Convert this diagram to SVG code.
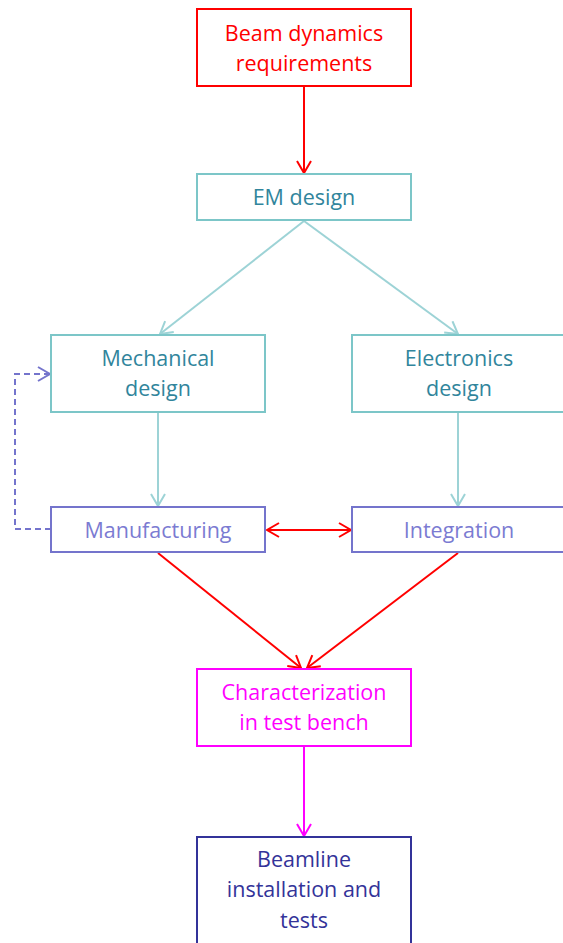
<svg xmlns="http://www.w3.org/2000/svg" width="563" height="943" viewBox="0 0 563 943">
  <style>
    .box { fill: #ffffff; stroke-width: 2; }
    .lbl { font-family: "Open Sans", "Liberation Sans", sans-serif; font-size: 21.5px; text-anchor: middle; }
    .red { stroke: #ff0000; }
    .teal { stroke: #7cc6c8; }
    .purple { stroke: #7474cc; }
    .mag { stroke: #ff00ff; }
    .navy { stroke: #333399; }
    .conn { fill: none; stroke-width: 2; }
  </style>
  <defs>
    <marker id="ahRed" markerWidth="16" markerHeight="16" viewBox="-14 -8 16 16" refX="0" refY="0" orient="auto" markerUnits="userSpaceOnUse">
      <path d="M-12,-7 L0,0 L-12,7" fill="none" stroke="#ff0000" stroke-width="2"/>
    </marker>
    <marker id="ahRedStart" markerWidth="16" markerHeight="16" viewBox="-2 -8 16 16" refX="0" refY="0" orient="auto" markerUnits="userSpaceOnUse">
      <path d="M12,-7 L0,0 L12,7" fill="none" stroke="#ff0000" stroke-width="2"/>
    </marker>
    <marker id="ahTeal" markerWidth="16" markerHeight="16" viewBox="-14 -8 16 16" refX="0" refY="0" orient="auto" markerUnits="userSpaceOnUse">
      <path d="M-12,-7 L0,0 L-12,7" fill="none" stroke="#9dd3d6" stroke-width="2"/>
    </marker>
    <marker id="ahPurple" markerWidth="16" markerHeight="16" viewBox="-14 -8 16 16" refX="0" refY="0" orient="auto" markerUnits="userSpaceOnUse">
      <path d="M-12,-7 L0,0 L-12,7" fill="none" stroke="#7474cc" stroke-width="2"/>
    </marker>
    <marker id="ahMag" markerWidth="16" markerHeight="16" viewBox="-14 -8 16 16" refX="0" refY="0" orient="auto" markerUnits="userSpaceOnUse">
      <path d="M-12,-7 L0,0 L-12,7" fill="none" stroke="#ff00ff" stroke-width="2"/>
    </marker>
  </defs>
  <rect width="563" height="943" fill="#ffffff"/>

  <g id="connectors" class="conn">
    <line x1="304" y1="87" x2="304" y2="173" stroke="#ff0000" marker-end="url(#ahRed)"/>
    <line x1="304" y1="221" x2="160" y2="334" stroke="#9dd3d6" marker-end="url(#ahTeal)"/>
    <line x1="304" y1="221" x2="458" y2="334" stroke="#9dd3d6" marker-end="url(#ahTeal)"/>
    <line x1="158" y1="413" x2="158" y2="506" stroke="#9dd3d6" marker-end="url(#ahTeal)"/>
    <line x1="458" y1="413" x2="458" y2="506" stroke="#9dd3d6" marker-end="url(#ahTeal)"/>
    <line x1="267" y1="530" x2="351" y2="530" stroke="#ff0000" marker-start="url(#ahRedStart)" marker-end="url(#ahRed)"/>
    <path d="M51,529 H15 V374 H50" stroke="#7474cc" stroke-dasharray="6,4" marker-end="url(#ahPurple)"/>
    <line x1="158" y1="553" x2="301" y2="668" stroke="#ff0000" marker-end="url(#ahRed)"/>
    <line x1="458" y1="553" x2="307" y2="668" stroke="#ff0000" marker-end="url(#ahRed)"/>
    <line x1="304" y1="747" x2="304" y2="836" stroke="#ff00ff" marker-end="url(#ahMag)"/>
  </g>

  <g id="beam-dynamics">
    <rect class="box red" x="197" y="9" width="214" height="77"/>
    <text class="lbl" x="304" y="41" fill="#ff0000">Beam dynamics</text>
    <text class="lbl" x="304" y="71" fill="#ff0000">requirements</text>
  </g>

  <g id="em-design">
    <rect class="box teal" x="197" y="174" width="214" height="46"/>
    <text class="lbl" x="304" y="205" fill="#31859c">EM design</text>
  </g>

  <g id="mechanical-design">
    <rect class="box teal" x="51" y="335" width="214" height="77"/>
    <text class="lbl" x="158" y="366" fill="#31859c">Mechanical</text>
    <text class="lbl" x="158" y="396" fill="#31859c">design</text>
  </g>

  <g id="electronics-design">
    <rect class="box teal" x="352" y="335" width="214" height="77"/>
    <text class="lbl" x="459" y="366" fill="#31859c">Electronics</text>
    <text class="lbl" x="459" y="396" fill="#31859c">design</text>
  </g>

  <g id="manufacturing">
    <rect class="box purple" x="51" y="507" width="214" height="45"/>
    <text class="lbl" x="158" y="538" fill="#7b7bd2">Manufacturing</text>
  </g>

  <g id="integration">
    <rect class="box purple" x="352" y="507" width="214" height="45"/>
    <text class="lbl" x="459" y="538" fill="#7b7bd2">Integration</text>
  </g>

  <g id="characterization">
    <rect class="box mag" x="197" y="669" width="214" height="77"/>
    <text class="lbl" x="304" y="700" fill="#ff00ff">Characterization</text>
    <text class="lbl" x="304" y="730" fill="#ff00ff">in test bench</text>
  </g>

  <g id="beamline">
    <rect class="box navy" x="197" y="837" width="214" height="110"/>
    <text class="lbl" x="304" y="867" fill="#333399">Beamline</text>
    <text class="lbl" x="304" y="897" fill="#333399">installation and</text>
    <text class="lbl" x="304" y="928" fill="#333399">tests</text>
  </g>
</svg>
